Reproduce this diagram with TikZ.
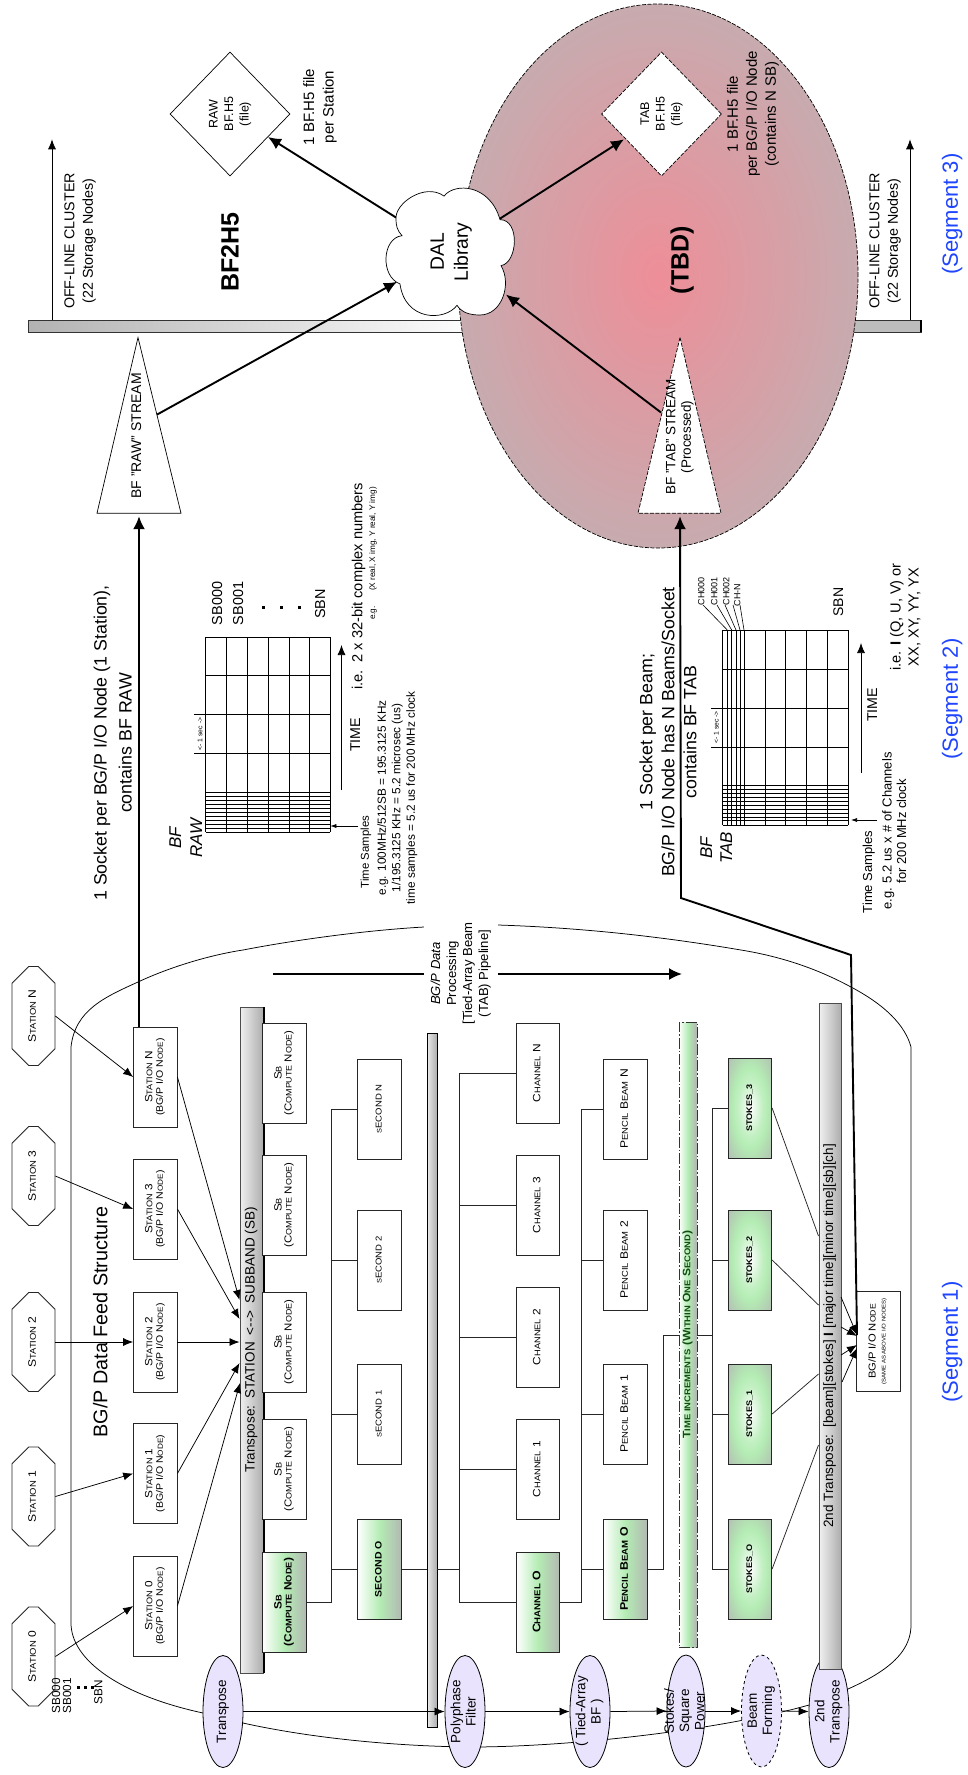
\documentclass[tikz,border=0pt]{standalone}
\usepackage{fontspec}
\usepackage{graphicx}
\setmainfont{Liberation Sans}
\newfontfamily\capsfont[FakeStretch=1.12]{Liberation Sans}
\usetikzlibrary{arrows.meta,shapes.geometric,shapes.misc,calc}
\definecolor{lav}{HTML}{E9E3FD}
\definecolor{grn}{HTML}{B4ECB4}
\definecolor{gry}{HTML}{B2B9B2}
\definecolor{segblue}{HTML}{1F45FF}
\definecolor{tbdin}{HTML}{EE8E98}
\definecolor{tbdout}{HTML}{C7ABAF}
\definecolor{dkgrn}{HTML}{0F4F0F}
\pgfdeclareradialshading{stokesshade}{\pgfpoint{0bp}{0bp}}{color(0bp)=(white); color(14bp)=(grn!80!white); color(20bp)=(grn); color(38bp)=(gry); color(50bp)=(gry)}
\makeatletter
\newcommand\st[1]{{\@tempdima=\f@size pt \@tempdima=.78\@tempdima \edef\tmpsz{\strip@pt\@tempdima}\fontsize{\tmpsz}{\tmpsz}\selectfont #1}}
\makeatother
\newcommand\vt[1]{\rotatebox{90}{\begin{tabular}{@{}c@{}}#1\end{tabular}}}
\newcommand\ov[1]{\makebox[0pt]{\raisebox{-.5\height}[0pt][0pt]{\vt{#1}}}}
\tikzset{
 fs/.style 2 args={font=\fontsize{#1}{#2}\selectfont},
 cs/.style 2 args={font=\capsfont\fontsize{#1}{#2}\selectfont},
 lbl/.style={inner sep=0pt,outer sep=0pt},
 ln/.style={line width=.75pt,draw=black!85},
 thin arrow/.style={line width=.75pt,-{Latex[length=10pt,width=8pt]}},
 thick arrow/.style={line width=1.9pt,-{Latex[length=13pt,width=12pt]}},
 octa/.style={chamfered rectangle,chamfered rectangle xsep=11pt,chamfered rectangle ysep=27pt,ln,minimum width=43pt,minimum height=99pt,inner sep=0pt,cs={10.8}{11.5}},
 iobox/.style={rectangle,ln,minimum width=43.5pt,minimum height=100pt,inner sep=0pt,fill=white,cs={10.5}{11.5}},
 sbbox/.style={iobox,cs={10.5}{11}},
 secbox/.style={iobox,cs={8.5}{10}},
 chbox/.style={iobox,cs={10.6}{12}},
 pbbox/.style={iobox,cs={10.8}{12}},
 stbox/.style={iobox,font=\capsfont\bfseries\fontsize{10.4}{10}\selectfont,shading=stokesshade},
 grnbox/.style={left color=white,right color=gry,middle color=grn},
 phase/.style={ellipse,draw=black,line width=.8pt,fill=lav,minimum width=40pt,minimum height=112pt,inner sep=0pt,fs={13.5}{15.3}},
 barn/.style={rectangle,draw=black!70,line width=.8pt,inner sep=0pt,left color=black!6,right color=black!32,fs={13.5}{15}},
 plain/.style={lbl,fs={14.5}{18.5}},
}
\begin{document}
\begin{tikzpicture}[x=1pt,y=-1pt]
\useasboundingbox (0,0) rectangle (968,1775);
\fill[white] (0,0) rectangle (968,1775);
% outer envelope
\draw[ln,black] (424,927) .. controls (370,930) and (300,939) .. (243,950) .. controls (210,955) and (170,967) .. (138,982) .. controls (105,997) and (75,1010) .. (71,1047) -- (71,1623) .. controls (71,1660) and (120,1695) .. (203,1713) .. controls (280,1735) and (380,1746) .. (470,1747) .. controls (570,1747) and (720,1730) .. (809,1705) .. controls (860,1685) and (911,1665) .. (911,1625) -- (911,1047) .. controls (905,1025) and (885,1005) .. (851,987) .. controls (825,973) and (790,958) .. (741,950) .. controls (670,938) and (590,928) .. (498,925);
% top bar
\node[rectangle,draw=black!80,line width=.7pt,inner sep=0pt,minimum width=452pt,minimum height=11.8pt,left color=black!30,right color=white] (topbarL) at (254,326.2) {};
\node[rectangle,draw=black!80,line width=.7pt,inner sep=0pt,minimum width=441pt,minimum height=11.8pt,fill=black!26] (topbarR) at (700.5,326.2) {};
\fill[black] (920,320.3) rectangle (922,332.1);
% TBD ellipse
\node[ellipse,draw=black,line width=.7pt,dash pattern=on 4pt off 1.5pt,inner sep=0pt,minimum width=400pt,minimum height=544pt,inner color=tbdin,outer color=tbdout] (tbd) at (658,276) {};
\node[lbl,font=\bfseries\fontsize{25}{28}\selectfont] (tbdt) at (683,260) {\vt{(TBD)}};
\node[lbl,font=\bfseries\fontsize{25}{28}\selectfont] (bf2h5) at (233,252) {\vt{BF2H5}};
% files
\node[diamond,draw=black,line width=.7pt,minimum width=120pt,minimum height=124pt,inner sep=0pt,fs={12.5}{15.5}] (rawf) at (230,114) {\vt{RAW\\BF.H5\\(file)}};
\node[diamond,draw=black,dash pattern=on 4pt off 1.5pt,fill=white,line width=.7pt,minimum width=120pt,minimum height=124pt,inner sep=0pt,fs={12.5}{15.5}] (tabf) at (661.5,114) {\vt{TAB\\BF.H5\\(file)}};
\node[plain,fs={15}{19.5}] (rawnote) at (320,107) {\vt{1 BF.H5 file\\per Station}};
\node[plain,fs={15}{19}] (tabnote) at (753,114) {\vt{1 BF.H5 file\\per BG/P I/O Node\\(contains N SB)}};
% stream triangles
\coordinate (rawtip) at (138,337.5);
\coordinate (rawbase) at (139,513.2);
\coordinate (rawside) at (157,414.6);
\draw[line width=.7pt,fill=white] (rawtip) -- (181,513.2) -- (97,513.2) -- cycle;
\node[lbl,fs={14}{15}] (rawt) at (138,436) {\vt{BF "RAW" STREAM}};
\coordinate (tabtip) at (680,337.5);
\coordinate (tabbase) at (680,513.2);
\coordinate (tabside) at (661,412.5);
\draw[line width=.7pt,fill=white,dash pattern=on 4pt off 1.5pt] (tabtip) -- (721,513.2) -- (638,513.2) -- cycle;
\node[lbl,fs={13.5}{15.5}] (tabt) at (680,437) {\vt{BF "TAB" STREAM\\(Processed)}};
% cloud
\begin{scope}[yscale=1.0714]
\draw[line width=.7pt,fill=white] (396,205) .. controls (394,190) and (425,170) .. (444,183) .. controls (455,170) and (490,172) .. (500,205) .. controls (520,205) and (518,245) .. (501,248) .. controls (512,265) and (502,294) .. (480,294) .. controls (470,294) and (462,292) .. (457,285) .. controls (445,300) and (405,300) .. (400,265) .. controls (380,258) and (382,222) .. (402,220) .. controls (397,215) and (396,210) .. (396,205) -- cycle;
\end{scope}
\node[lbl,fs={19.3}{24}] (dal) at (451,252) {\vt{DAL\\Library}};
\coordinate (dalrawin) at (397,281.8);
\coordinate (dalrawout) at (396,217.5);
\coordinate (daltabout) at (500,218.6);
\coordinate (daltabin) at (506,294.6);
\coordinate (rawfin) at (268,137);
\coordinate (tabfin) at (624,139.3);
\draw[thick arrow] (rawside) -- (dalrawin);
\draw[thick arrow] (dalrawout) -- (rawfin);
\draw[thick arrow] (daltabout) -- (tabfin);
\draw[thick arrow] (tabside) -- (daltabin);
% off-line
\coordinate (offl) at (52,320.3); \coordinate (offlt) at (52,139.3);
\coordinate (offr) at (910,320.3); \coordinate (offrt) at (910,139.3);
\draw[thin arrow] (offl) -- (offlt);
\draw[thin arrow] (offr) -- (offrt);
\node[lbl,fs={14.3}{18.5}] (offtl) at (80,241) {\vt{OFF-LINE CLUSTER\\(22 Storage Nodes)}};
\node[lbl,fs={14.3}{18.5}] (offtr) at (885,241) {\vt{OFF-LINE CLUSTER\\(22 Storage Nodes)}};
% segments
\node[lbl,fs={22}{24},text=segblue] (seg1) at (953,1342) {\vt{(Segment 1)}};
\node[lbl,fs={22}{24},text=segblue] (seg2) at (953,699) {\vt{(Segment 2)}};
\node[lbl,fs={22}{24},text=segblue] (seg3) at (953,214) {\vt{(Segment 3)}};
% raw text
\node[lbl,fs={17.8}{25}] (sockraw) at (114,743) {\vt{1 Socket per BG/P I/O Node (1 Station),\\contains BF RAW}};
\node[lbl,fs={17.8}{22}] (socktab) at (670,732) {\vt{1 Socket per Beam;\\BG/P I/O Node has N Beams/Socket\\contains BF TAB}};
% RAW grid
\foreach \x in {205.7,226.3,247.3,268,289,309.7,330.3} \draw[line width=.7pt] (\x,637.3) -- (\x,832);
\foreach \y in {637.3,675.7,714.7,753.3,792.3,796.2,800.2,804.2,808.2,812.2,816.2,820.2,824.2,828.2,832} \draw[line width=.7pt] (205.7,\y) -- (330.3,\y);
\draw[line width=.6pt] (194,714.7) -- (205.7,714.7) (194,753.3) -- (205.7,753.3);
\node[lbl,fs={6.8}{8}] (rawsec) at (200.7,734) {\vt{<- 1 sec ->}};
\node[lbl,font=\itshape\fontsize{17}{21}\selectfont] (bfraw) at (187.5,838) {\vt{BF\\RAW}};
\node[lbl,fs={14.4}{21}] (rawsb) at (228.5,603.5) {\vt{SB000\\SB001}};
\node[lbl,fs={14.4}{16}] (rawsbn) at (322,604) {\vt{SBN}};
\foreach \x in {263,281,299} \fill (\x-1.5,605.5) rectangle (\x+1.5,608.5);
\coordinate (rawtime0) at (341.5,790); \coordinate (rawtime1) at (341.5,645);
\draw[thin arrow] (rawtime0) -- (rawtime1);
\node[lbl,fs={14.2}{16}] (rawtime) at (357,735) {\vt{TIME}};
\coordinate (rawts0) at (358,826); \coordinate (rawts1) at (330.3,826);
\draw[line width=.6pt,-{Latex[length=6pt,width=4pt]}] (rawts0) -- (rawts1);
\node[lbl,fs={11.4}{14}] (rawts) at (366,852) {\vt{Time Samples}};
\node[lbl,fs={11.8}{14.5}] (raweg) at (397.5,798) {\vt{e.g. 100MHz/512SB = 195.3125 KHz\\1/195.3125 KHz = 5.2 microsec (us)\\time samples = 5.2 us for 200 MHz clock}};
\node[lbl,fs={14.6}{17}] (rawie) at (359,586.5) {\vt{i.e.\hspace{8pt}2 x 32-bit complex numbers}};
\node[lbl,fs={8.2}{10}] (raweg2) at (373,539) {\vt{(X real, X img, Y real, Y img)}};
\node[lbl,fs={8.2}{10}] (raweg3) at (373,613) {\vt{e.g.}};
% TAB grid
\foreach \x in {722.7,727.3,731.7,736,740,744,765,785.7,806.7,827.3,848} \draw[line width=.7pt] (\x,630) -- (\x,825);
\foreach \y in {630,669.3,708,747,785.7,789.6,793.5,797.4,801.3,805.2,809.1,813,816.9,820.8,825} \draw[line width=.7pt] (722.7,\y) -- (848,\y);
\draw[line width=.6pt] (711,708) -- (722.7,708) (711,747) -- (722.7,747);
\node[lbl,fs={6.8}{8}] (tabsec) at (717,727.5) {\vt{<- 1 sec ->}};
\node[lbl,font=\itshape\fontsize{17}{20}\selectfont] (bftab) at (718,848) {\vt{BF\\TAB}};
\node[lbl,fs={9}{12}] (ch0) at (702,591) {\vt{CH000}};
\node[lbl,fs={9}{12}] (ch1) at (715,591) {\vt{CH001}};
\node[lbl,fs={9}{12}] (ch2) at (727,591) {\vt{CH002}};
\node[lbl,fs={9}{12}] (chn) at (738,595) {\vt{CH-N}};
\draw[line width=.6pt] (703,605) -- (727.3,630) (717,605) -- (731.7,630) (725,605) -- (736,630) (733,605) -- (740,630) (740,605) -- (744,630);
\node[lbl,fs={14}{16}] (tabsbn) at (840,602) {\vt{SBN}};
\coordinate (tabtime0) at (861,773); \coordinate (tabtime1) at (861,643);
\draw[thin arrow] (tabtime0) -- (tabtime1);
\node[lbl,fs={14.2}{16}] (tabtime) at (874,705) {\vt{TIME}};
\coordinate (tabts0) at (877,820); \coordinate (tabts1) at (851,820);
\draw[line width=.6pt,-{Latex[length=6pt,width=4pt]}] (tabts0) -- (tabts1);
\node[lbl,fs={13}{15}] (tabts) at (869,872) {\vt{Time Samples}};
\node[lbl,fs={13}{14.5}] (tabeg) at (896,831) {\vt{e.g. 5.2 us\,\,x\,\,\# of Channels\\for 200 MHz clock}};
\node[lbl,fs={14.6}{18}] (tabie) at (906,617) {\vt{i.e. \textbf{I} (Q, U, V) or\\XX, XY, YY, YX}};
% title
\node[lbl,fs={19.8}{22}] (title) at (103,1322) {\vt{BG/P Data Feed Structure}};
\node[lbl,fs={11.7}{10}] (sbl) at (63,1696) {\vt{SB000\\SB001}};
\node[lbl,fs={11.7}{12}] (sbn) at (100,1692) {\vt{SBN}};
\foreach \x in {78,85,92} \fill (\x-1.5,1685.5) rectangle (\x+1.5,1688.5);
% stations
\node[octa] (o0) at (33.5,1656.5) {\vt{S\st{TATION} 0}};
\node[octa] (o1) at (33.5,1496.5) {\vt{S\st{TATION} 1}};
\node[octa] (o2) at (33.5,1342) {\vt{S\st{TATION} 2}};
\node[octa] (o3) at (33.5,1176) {\vt{S\st{TATION} 3}};
\node[octa] (on) at (33.5,1016) {\vt{S\st{TATION} N}};
\newcommand\iot[1]{\vt{S\st{TATION} #1\\[-1pt]{\fontsize{9.4}{10}\selectfont (BG/P I/O N\st{ODE})}}}
\node[iobox] (b0) at (155.3,1606) {\iot{0}};
\node[iobox] (b1) at (155.3,1473.5) {\iot{1}};
\node[iobox] (b2) at (155.3,1342) {\iot{2}};
\node[iobox] (b3) at (155.3,1209) {\iot{3}};
\node[iobox] (bn) at (155.3,1077) {\iot{N}};
\foreach \a/\b in {o0/b0,o1/b1,o2/b2,o3/b3,on/bn} \draw[thin arrow] (\a.east) -- (\b.west);
% transpose bar
\node[barn,minimum width=23pt,minimum height=666pt] (bar1) at (251.5,1340) {\vt{Transpose:\hspace{7pt}STATION\hspace{7pt}<{-}{-}>\hspace{7pt}SUBBAND (SB)}};
\fill[black] (bar1.north east) rectangle ([xshift=1.5pt]bar1.south east);
\coordinate (in0) at (240,1383); \coordinate (in1) at (239.5,1363); \coordinate (in2) at (239.5,1342); \coordinate (in3) at (239.5,1319); \coordinate (in4) at (239.5,1300);
\draw[thin arrow] (b0.east) -- (in0);
\draw[thin arrow] (b1.east) -- (in1);
\draw[thin arrow] (b2.east) -- (in2);
\draw[thin arrow] (b3.east) -- (in3);
\draw[thin arrow] (bn.east) -- (in4);
% sb boxes
\newcommand\sbt{\vt{S\st{B}\\[-1pt]{\fontsize{10.2}{10}\selectfont (C\st{OMPUTE} N\st{ODE})}}}
\node[sbbox,grnbox,font=\capsfont\bfseries\fontsize{10.6}{11}\selectfont] (s0) at (284.5,1602) {\vt{S\st{B}\\[-1pt]{\fontsize{10.6}{10}\selectfont (C\st{OMPUTE} N\st{ODE})}}};
\node[sbbox] (s1) at (284.5,1469) {\sbt};
\node[sbbox] (s2) at (284.5,1342) {\sbt};
\node[sbbox] (s3) at (284.5,1205) {\sbt};
\node[sbbox] (sn) at (284.5,1073) {\sbt};
% seconds
\node[secbox,grnbox,font=\capsfont\bfseries\fontsize{9.4}{10}\selectfont] (c0) at (379.5,1569) {\vt{SECOND O}};
\node[secbox] (c1) at (379.5,1414) {\vt{\st{S}ECOND 1}};
\node[secbox] (c2) at (379.5,1260) {\vt{\st{S}ECOND 2}};
\node[secbox] (cn) at (379.5,1109) {\vt{\st{S}ECOND N}};
\coordinate (ta0) at (331,1602); \coordinate (ta1) at (331,1109);
\draw[ln] (s0.east) -- (ta0) -- (ta1) -- (cn.west);
\draw[ln] (ta0 |- c0.west) -- (c0.west);
\draw[ln] (ta0 |- c1.west) -- (c1.west);
\draw[ln] (ta0 |- c2.west) -- (c2.west);
% thin bar
\node[rectangle,draw=black,line width=.9pt,inner sep=0pt,left color=black!8,right color=black!32,minimum width=10pt,minimum height=694pt] (thin) at (432,1380) {};
\draw[ln] (c0.east) -- (c0.east -| thin.west);
% process text and arrow
\coordinate (pr0) at (273,974); \coordinate (pr1) at (682,974);
\draw[thick arrow] (pr0) -- (pr1);
\node[rectangle,fill=white,inner sep=1pt,minimum width=74pt,minimum height=100pt,fs={13.1}{16}] (proc) at (461,973.5) {\vt{\textit{BG/P Data}\\Processing\\{[}Tied-Array Beam\\(TAB) Pipeline{]}}};
% channels
\node[chbox,grnbox,font=\capsfont\bfseries\fontsize{11}{12}\selectfont] (h0) at (538,1602) {\vt{C\st{HANNEL} O}};
\node[chbox] (h1) at (538,1469) {\vt{C\st{HANNEL} 1}};
\node[chbox] (h2) at (538,1337) {\vt{C\st{HANNEL} 2}};
\node[chbox] (h3) at (538,1205) {\vt{C\st{HANNEL} 3}};
\node[chbox] (hn) at (538,1073) {\vt{C\st{HANNEL} N}};
\coordinate (tb0) at (459,1602); \coordinate (tb1) at (459,1073);
\draw[ln] (c0.east -| thin.east) -- (c0.east -| tb0);
\draw[ln] (h0.west) -- (tb0) -- (tb1) -- (hn.west);
\draw[ln] (tb0 |- h1.west) -- (h1.west);
\draw[ln] (tb0 |- h2.west) -- (h2.west);
\draw[ln] (tb0 |- h3.west) -- (h3.west);
% pencil beams
\node[pbbox,grnbox,font=\capsfont\bfseries\fontsize{11}{12}\selectfont] (p0) at (625.5,1569) {\vt{P\st{ENCIL} B\st{EAM} O}};
\node[pbbox] (p1) at (625.5,1414) {\vt{P\st{ENCIL} B\st{EAM} 1}};
\node[pbbox] (p2) at (625.5,1260) {\vt{P\st{ENCIL} B\st{EAM} 2}};
\node[pbbox] (pn) at (625.5,1109) {\vt{P\st{ENCIL} B\st{EAM} N}};
\coordinate (tc0) at (581,1602); \coordinate (tc1) at (581,1109);
\draw[ln] (h0.east) -- (tc0) -- (tc1) -- (pn.west);
\draw[ln] (tc0 |- p0.west) -- (p0.west);
\draw[ln] (tc0 |- p1.west) -- (p1.west);
\draw[ln] (tc0 |- p2.west) -- (p2.west);
% time increments bar
\node[rectangle,draw=black!80,line width=.8pt,dash pattern=on 11pt off 2pt on 1.5pt off 2pt,inner sep=0pt,left color=white,right color=black!30,middle color=grn,minimum width=18pt,minimum height=625pt,font=\capsfont\bfseries\fontsize{10.8}{12}\selectfont,text=dkgrn] (tbar) at (688,1334.5) {\vt{T\st{IME INCREMENTS} (W\st{ITHIN} O\st{NE} S\st{ECOND})}};
\coordinate (td0) at (663,1569); \coordinate (td1) at (663,1335);
\draw[ln] (p0.east) -- (td0) -- (td1) -- (td1 -| tbar.west);
\coordinate (te0) at (712,1569); \coordinate (te1) at (712,1108);
\node[stbox] (k0) at (750,1569) {\vt{\st{STOKES\_O}}};
\node[stbox] (k1) at (750,1414) {\vt{\st{STOKES\_1}}};
\node[stbox] (k2) at (750,1260) {\vt{\st{STOKES\_2}}};
\node[stbox] (k3) at (750,1108) {\vt{\st{STOKES\_3}}};
\draw[ln] (td1 -| tbar.east) -- (td1 -| te0);
\draw[ln] (k0.west) -- (te0) -- (te1) -- (k3.west);
\draw[ln] (te0 |- k1.west) -- (k1.west);
\draw[ln] (te0 |- k2.west) -- (k2.west);
% ellipses
\node[phase] (e1) at (223,1711.5) {\ov{Transpose}};
\node[phase] (e2) at (465,1711.5) {\ov{Polyphase\\Filter}};
\node[phase] (e3) at (590,1711.5) {\ov{( Tied-Array\\BF )}};
\node[phase,minimum width=38pt] (e4) at (686,1711) {\ov{Stokes/\\Square\\Power}};
\node[phase,dashed] (e5) at (761.5,1711) {\ov{Beam\\Forming}};
\node[phase] (e6) at (829,1711.5) {\ov{2nd\\Transpose}};
\draw[thin arrow] (e1.east) -- (e2.west);
\draw[thin arrow] (e2.east) -- (e3.west);
\draw[thin arrow] (e3.east) -- (e4.west);
\draw[thin arrow] (e4.east) -- (e5.west);
\draw[thin arrow] (e5.east) -- (e6.west);
% second transpose bar
\node[barn,minimum width=22pt,minimum height=666pt] (bar2) at (830,1336) {\vt{2nd Transpose:\hspace{7pt}[beam][stokes] \textbf{I} [major time][minor time][sb][ch]}};
\coordinate (a0) at (818.5,1445); \coordinate (a1) at (818.5,1374); \coordinate (a2) at (818.5,1305); \coordinate (a3) at (818.5,1236);
\draw[ln] (k0.east) -- (a0);
\draw[ln] (k1.east) -- (a1);
\draw[ln] (k2.east) -- (a2);
\draw[ln] (k3.east) -- (a3);
% I/O node
\node[iobox,cs={10}{11}] (io) at (878.5,1341.5) {\vt{BG/P I/O N\st{ODE}\\[-1pt]{\fontsize{5.4}{6}\selectfont (SAME AS ABOVE I/O NODES)}}};
\coordinate (q0) at (841,1297); \coordinate (q1) at (841,1327); \coordinate (q2) at (841,1355); \coordinate (q3) at (842,1382);
\coordinate (i0) at (857,1335); \coordinate (i1) at (857,1336); \coordinate (i2) at (857,1345); \coordinate (i3) at (857,1348);
\draw[thin arrow] (q0) -- (i0);
\draw[thin arrow] (q1) -- (i1);
\draw[thin arrow] (q2) -- (i2);
\draw[thin arrow] (q3) -- (i3);
% thick stream connectors
\coordinate (ioout) at (857,1335);
\coordinate (bend1) at (851,955);
\coordinate (bend2) at (681,898);
\draw[thick arrow,shorten >=3pt] (bn.north -| rawbase) -- (rawbase);
\draw[thick arrow,shorten >=3pt] (ioout) -- (bend1) -- (bend2) -- (tabbase);
\end{tikzpicture}
\end{document}
